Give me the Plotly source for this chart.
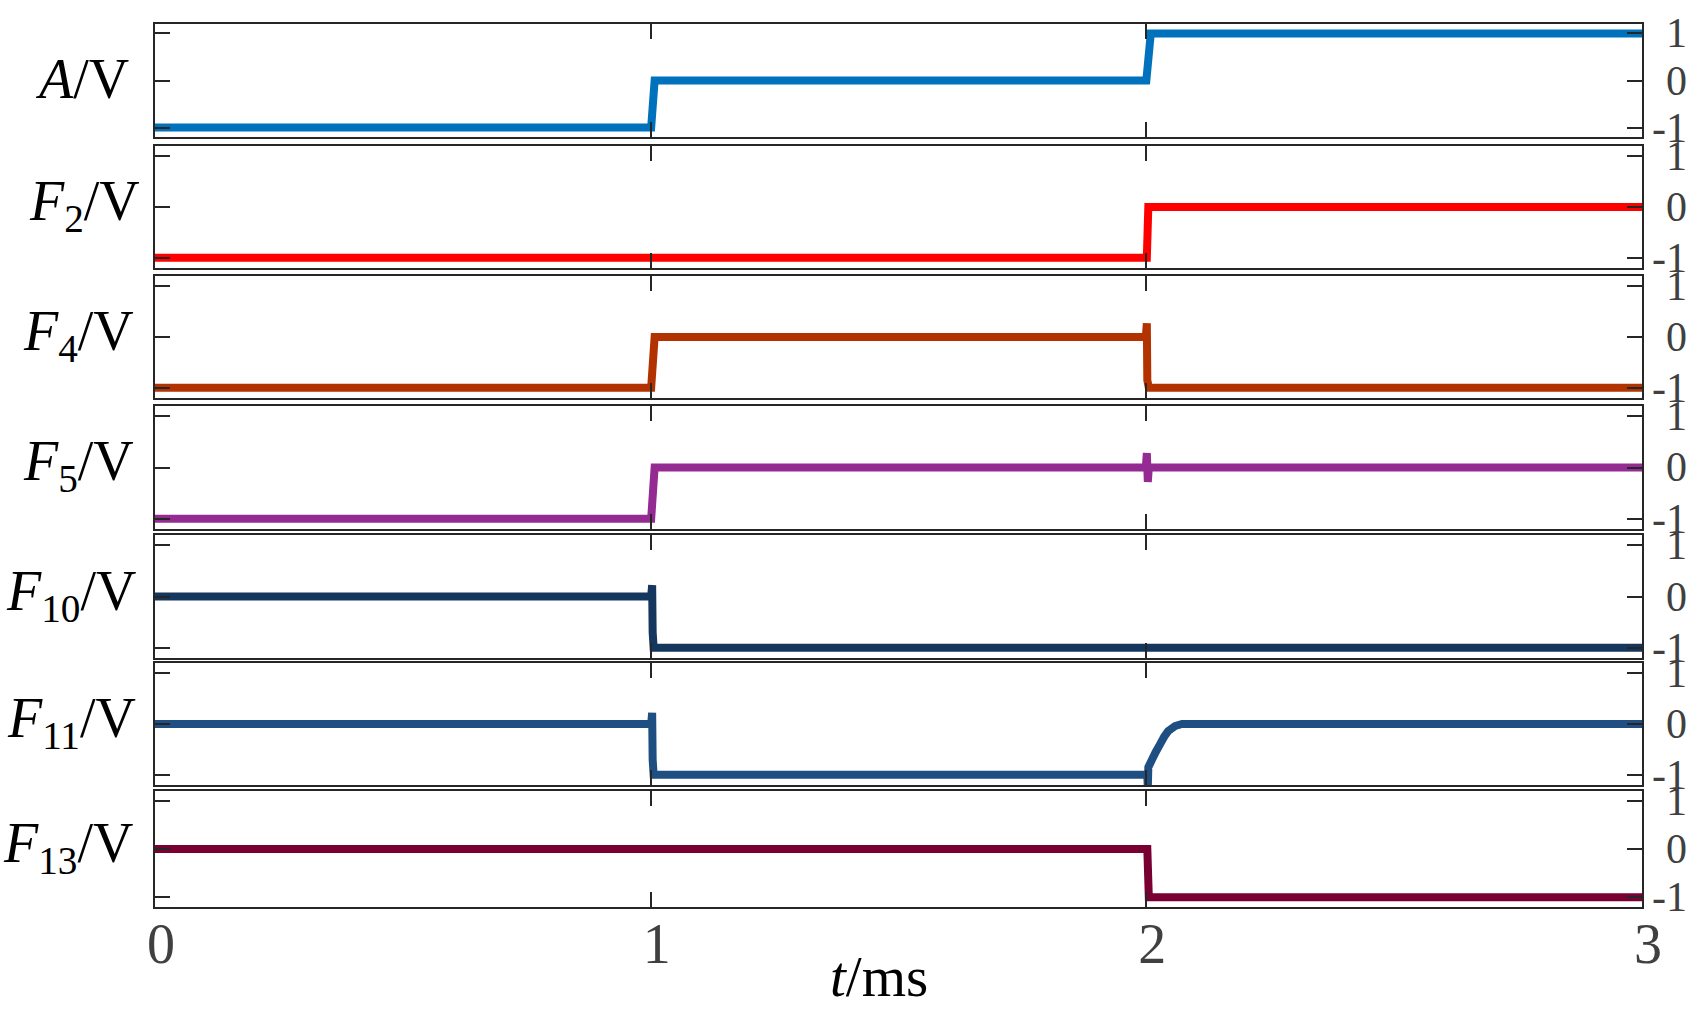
import plotly.graph_objects as go

SERIF = "Liberation Serif, Times New Roman, serif"
AXIS_COLOR = "#262626"
TICK_TEXT = "#404040"

# time axis (ms)
x_ticks = [0, 1, 2, 3]
y_ticks = [1, 0, -1]
y_tick_text = ["1", "0", "-1"]

# signal A
t_A = [0, 1.001, 1.008, 2.0, 2.009, 3]
A = [-1, -1, 0, 0, 1, 1]

# F2
t_F2 = [0, 2.001, 2.004, 3]
F2 = [-1, -1, 0, 0]

# F4
t_F4 = [0, 1.001, 1.008, 1.999, 2.001, 2.002, 2.005, 3]
F4 = [-1, -1, 0, 0, 0.27, -0.85, -1, -1]

# F5
t_F5 = [0, 1.001, 1.008, 1.999, 2.001, 2.003, 2.005, 3]
F5 = [-1, -1, 0, 0, 0.28, -0.28, 0, 0]

# F10
t_F10 = [0, 1.001, 1.003, 1.004, 1.006, 3]
F10 = [0, 0, 0.22, -0.7, -1, -1]

# F11
t_F11 = [0, 1.001, 1.003, 1.004, 1.006, 2.002, 2.003, 2.004, 2.011, 2.019,
         2.027, 2.036, 2.044, 2.058, 2.072, 3]
F11 = [0, 0, 0.22, -0.7, -1, -1, -1.26, -0.85, -0.71, -0.55,
       -0.41, -0.25, -0.14, -0.04, 0, 0]

# F13
t_F13 = [0, 0.999, 1.0, 1.003, 1.004, 2.002, 2.005, 3]
F13 = [0, 0, 0.05, -0.04, 0, 0, -1, -1]

labels = [
    "<i>A</i>/V",
    "<i>F</i><sub>2</sub>/V",
    "<i>F</i><sub>4</sub>/V",
    "<i>F</i><sub>5</sub>/V",
    "<i>F</i><sub>10</sub>/V",
    "<i>F</i><sub>11</sub>/V",
    "<i>F</i><sub>13</sub>/V",
]
times = [t_A, t_F2, t_F4, t_F5, t_F10, t_F11, t_F13]
values = [A, F2, F4, F5, F10, F11, F13]
colors = ["#0072BD", "#FF0000", "#B33300", "#932B93", "#15375E", "#1F4E82", "#780032"]

W, H = 1702, 1012
M_L, M_R, M_T, M_B = 155, 60, 24, 105
plot_h = H - M_T - M_B
plot_bottom = H - M_B
panel_top = [24, 146, 276, 406, 535, 663, 791]
panel_bottom = [137, 268, 398, 529, 658, 785, 907]
label_shift = [-24, -13, -19, -19, -17, -17, -20]

fig = go.Figure()
annotations = []
n_panels = len(values)

for i in range(n_panels):
    n = "" if i == 0 else str(i + 1)
    fig.add_trace(go.Scatter(
        x=times[i], y=values[i],
        mode="lines",
        line={"color": colors[i], "width": 8, "simplify": False},
        xaxis="x" + n, yaxis="y" + n,
        showlegend=False,
        hoverinfo="skip",
    ))
    dom = [(plot_bottom - panel_bottom[i]) / plot_h, (plot_bottom - panel_top[i]) / plot_h]
    axis_common = {
        "showline": True, "linecolor": AXIS_COLOR, "linewidth": 2,
        "mirror": "ticks", "ticks": "inside", "ticklen": 15, "tickwidth": 2,
        "tickcolor": AXIS_COLOR, "showgrid": False, "zeroline": False,
    }
    fig.update_layout({
        "xaxis" + n: dict(
            axis_common,
            domain=[0, 1], anchor="y" + n, range=[0, 3],
            tickvals=x_ticks,
            showticklabels=(i == n_panels - 1),
            ticklabelstandoff=-13,
            ticklabelshift=6,
            tickfont={"family": SERIF, "size": 56, "color": TICK_TEXT},
            **({} if i == 0 else {"matches": "x"}),
        ),
        "yaxis" + n: dict(
            axis_common,
            domain=dom, anchor="x" + n, range=[-1.2, 1.2],
            tickvals=y_ticks, showticklabels=False,
        ),
    })
    # right-hand tick labels, right aligned like the original
    for v, txt in zip(y_ticks, y_tick_text):
        annotations.append(dict(
            x=1, xref="paper", xanchor="right", xshift=47,
            y=v, yref="y" + n, yanchor="middle",
            text=txt, showarrow=False,
            font={"family": SERIF, "size": 42, "color": TICK_TEXT},
        ))
    annotations.append(dict(
        x=0, xref="paper", xanchor="right", xshift=label_shift[i],
        y=0, yref="y" + n, yanchor="middle", yshift=2,
        text=labels[i], showarrow=False,
        font={"family": SERIF, "size": 56, "color": "black"},
    ))

annotations.append(dict(
    x=(879 - M_L) / (W - M_L - M_R), xref="paper", xanchor="center",
    y=(plot_bottom - 976) / plot_h, yref="paper", yanchor="middle",
    text="<i>t</i>/ms", showarrow=False,
    font={"family": SERIF, "size": 57, "color": "black"},
))

fig.update_layout(
    width=W, height=H,
    margin={"l": M_L, "r": M_R, "t": M_T, "b": M_B},
    paper_bgcolor="white",
    plot_bgcolor="white",
    font={"family": SERIF},
    annotations=annotations,
)

fig.write_html(
    "out.html",
    config={"displayModeBar": False},
    post_script="document.body.style.margin = '0';",
)
